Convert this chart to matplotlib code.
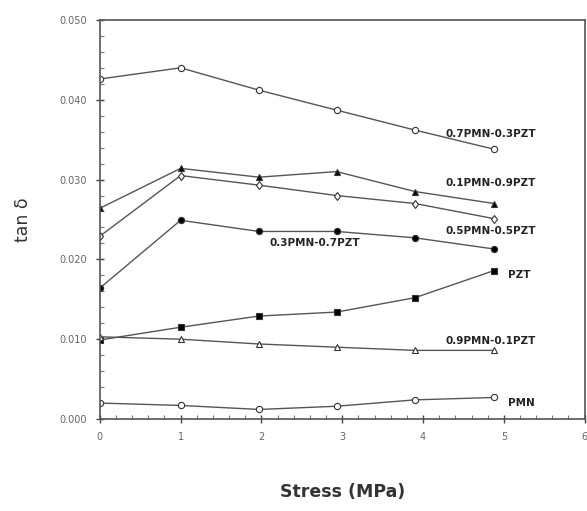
import matplotlib
matplotlib.use("Agg")
import matplotlib.pyplot as plt
from matplotlib.ticker import MultipleLocator, FormatStrFormatter

# stress values (MPa)
stress = [0, 1, 1.97, 2.93, 3.9, 4.88]

# tan delta for each composition
pmn07_pzt03 = [0.0426, 0.0440, 0.0412, 0.0387, 0.0362, 0.0338]
pmn01_pzt09 = [0.0264, 0.0314, 0.0303, 0.0310, 0.0285, 0.0270]
pmn05_pzt05 = [0.0229, 0.0305, 0.0293, 0.0280, 0.0270, 0.0251]
pmn03_pzt07 = [0.0164, 0.0249, 0.0235, 0.0235, 0.0227, 0.0213]
pzt = [0.0099, 0.0115, 0.0129, 0.0134, 0.0152, 0.0186]
pmn09_pzt01 = [0.0103, 0.0100, 0.0094, 0.0090, 0.0086, 0.0086]
pmn = [0.0020, 0.0017, 0.0012, 0.0016, 0.0024, 0.0027]

labels = ["0.7PMN-0.3PZT", "0.1PMN-0.9PZT", "0.5PMN-0.5PZT", "0.3PMN-0.7PZT",
          "PZT", "0.9PMN-0.1PZT", "PMN"]

fig = plt.figure(figsize=(5.87, 5.11), dpi=100)
ax = fig.add_axes([0.170, 0.180, 0.826, 0.781])

line_col = "#555555"
series = [
    (pmn07_pzt03, "o", "white"),
    (pmn01_pzt09, "^", "black"),
    (pmn05_pzt05, "d", "white"),
    (pmn03_pzt07, "o", "black"),
    (pzt, "s", "black"),
    (pmn09_pzt01, "^", "white"),
    (pmn, "o", "white"),
]
for vals, mk, fc in series:
    ax.plot(stress, vals, color=line_col, lw=1.0, marker=mk, ms=4.5,
            mfc=fc, mec="#333333", mew=0.8)

# curve labels
label_pos = [(4.28, 0.0357), (4.28, 0.0296), (4.28, 0.0236),
             (2.10, 0.0221), (5.05, 0.0181), (4.28, 0.0098), (5.05, 0.0020)]
for text, (lx, ly) in zip(labels, label_pos):
    ax.text(lx, ly, text, fontsize=7.5, fontweight="bold", color="#222222",
            ha="left", va="center")

ax.set_xlim(0, 6)
ax.set_ylim(0, 0.05)
ax.xaxis.set_major_locator(MultipleLocator(1))
ax.xaxis.set_minor_locator(MultipleLocator(0.2))
ax.yaxis.set_major_locator(MultipleLocator(0.01))
ax.yaxis.set_minor_locator(MultipleLocator(0.002))
ax.yaxis.set_major_formatter(FormatStrFormatter("%.3f"))
ax.xaxis.set_major_formatter(FormatStrFormatter("%d"))
ax.tick_params(which="major", direction="inout", length=6, width=1,
               color="#444444", labelsize=7, labelcolor="#666666", pad=6)
ax.tick_params(which="minor", direction="in", length=3, width=0.8,
               color="#777777")
for sp in ax.spines.values():
    sp.set_color("#555555")
    sp.set_linewidth(1.2)

ax.set_xlabel("Stress (MPa)", fontsize=12.5, fontweight="bold",
              color="#333333", labelpad=30)
ax.set_ylabel("tan δ", fontsize=12.5, color="#333333", labelpad=20)

fig.savefig("out.png", dpi=100)
